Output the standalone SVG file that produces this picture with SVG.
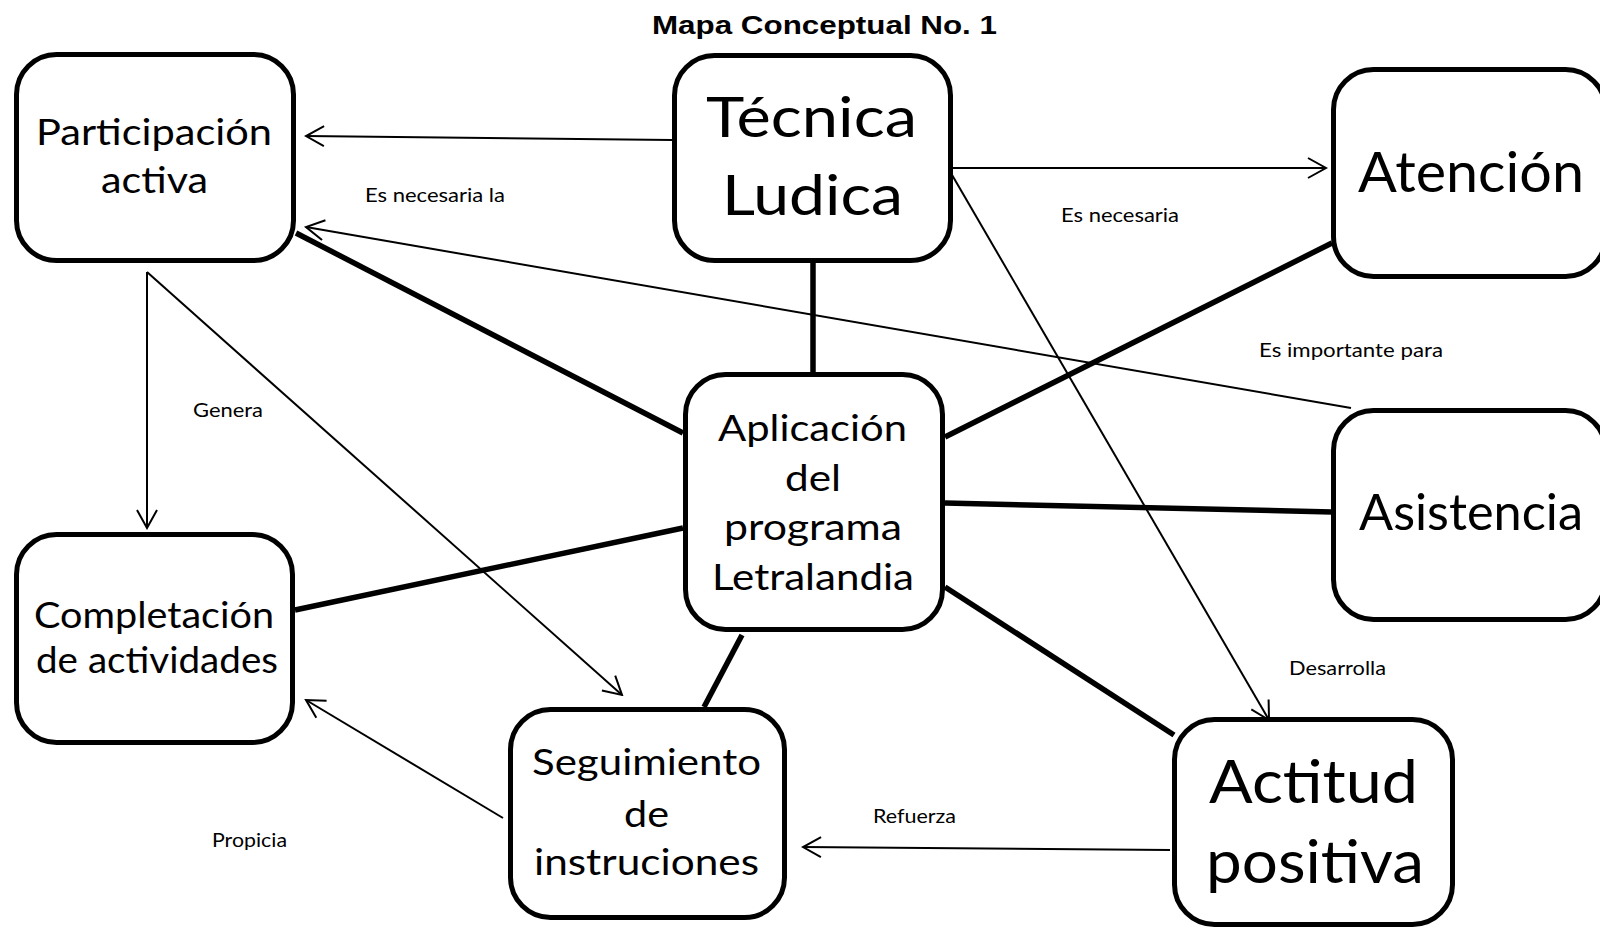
<svg xmlns="http://www.w3.org/2000/svg" width="1600" height="927" viewBox="0 0 1600 927">
<style>
.box{fill:#fff;stroke:#000;stroke-width:5}
.nt{font-family:Lato,"Open Sans",sans-serif;fill:#000}
.lbl{font-family:Lato,"Open Sans",sans-serif;font-size:19px;fill:#000}
.thick{stroke:#000;stroke-width:5.5;fill:none}
.thin{stroke:#000;stroke-width:2;fill:none;marker-end:url(#arr)}
.title{font-family:"Liberation Sans",Arial,sans-serif;font-weight:bold;font-size:25.5px;fill:#000}
</style>
<defs>
<marker id="arr" markerWidth="22" markerHeight="24" refX="20" refY="12" orient="auto" markerUnits="userSpaceOnUse">
<path d="M2 2 L20 12 L2 22" fill="none" stroke="#000" stroke-width="2"/>
</marker>
</defs>
<rect width="1600" height="927" fill="#fff"/>
<text class="title" x="652" y="33.5" textLength="345" lengthAdjust="spacingAndGlyphs">Mapa Conceptual No. 1</text>

<g id="connectors">
<line class="thick" x1="813" y1="263" x2="813" y2="372"/>
<line class="thick" x1="296" y1="233" x2="683" y2="433"/>
<line class="thick" x1="945" y1="437" x2="1332" y2="243"/>
<line class="thick" x1="945" y1="503" x2="1332" y2="512"/>
<line class="thick" x1="683" y1="528" x2="295" y2="610"/>
<line class="thick" x1="742" y1="635" x2="704" y2="707"/>
<line class="thick" x1="945" y1="587" x2="1174" y2="735"/>
<line class="thin" x1="672" y1="140" x2="306" y2="136"/>
<line class="thin" x1="1351" y1="408" x2="306" y2="227"/>
<line class="thin" x1="948" y1="168" x2="1326" y2="168"/>
<line class="thin" x1="948" y1="168" x2="1269" y2="720"/>
<line class="thin" x1="147" y1="272" x2="147" y2="528"/>
<line class="thin" x1="147" y1="272" x2="622" y2="695"/>
<line class="thin" x1="503" y1="818" x2="306" y2="700"/>
<line class="thin" x1="1170" y1="850" x2="803" y2="847"/>
<text class="lbl" x="365" y="202" textLength="140" lengthAdjust="spacingAndGlyphs">Es necesaria la</text>
<text class="lbl" x="1061" y="222" textLength="118" lengthAdjust="spacingAndGlyphs">Es necesaria</text>
<text class="lbl" x="1259" y="357" textLength="184" lengthAdjust="spacingAndGlyphs">Es importante para</text>
<text class="lbl" x="193" y="417" textLength="70" lengthAdjust="spacingAndGlyphs">Genera</text>
<text class="lbl" x="212" y="847" textLength="75" lengthAdjust="spacingAndGlyphs">Propicia</text>
<text class="lbl" x="873" y="823" textLength="83" lengthAdjust="spacingAndGlyphs">Refuerza</text>
<text class="lbl" x="1289" y="675" textLength="97" lengthAdjust="spacingAndGlyphs">Desarrolla</text>
</g>

<g id="participacion">
<rect class="box" x="16.5" y="54.5" width="277" height="206" rx="40"/>
<text class="nt" font-size="37.5" x="36" y="145" textLength="236" lengthAdjust="spacingAndGlyphs">Participación</text>
<text class="nt" font-size="37.5" x="101" y="193" textLength="107" lengthAdjust="spacingAndGlyphs">activa</text>
</g>
<g id="tecnica">
<rect class="box" x="674.5" y="55.5" width="276" height="205" rx="40"/>
<text class="nt" font-size="56" x="706" y="137" textLength="211" lengthAdjust="spacingAndGlyphs">Técnica</text>
<text class="nt" font-size="56" x="722" y="215" textLength="181" lengthAdjust="spacingAndGlyphs">Ludica</text>
</g>
<g id="atencion">
<rect class="box" x="1333.5" y="69.5" width="272" height="207" rx="40"/>
<text class="nt" font-size="56" x="1358" y="192" textLength="226" lengthAdjust="spacingAndGlyphs">Atención</text>
</g>
<g id="aplicacion">
<rect class="box" x="685.5" y="374.5" width="257" height="255" rx="40"/>
<text class="nt" font-size="36" x="718" y="441" textLength="189" lengthAdjust="spacingAndGlyphs">Aplicación</text>
<text class="nt" font-size="36" x="785" y="491" textLength="56" lengthAdjust="spacingAndGlyphs">del</text>
<text class="nt" font-size="36" x="724" y="540" textLength="178" lengthAdjust="spacingAndGlyphs">programa</text>
<text class="nt" font-size="36" x="712" y="590" textLength="202" lengthAdjust="spacingAndGlyphs">Letralandia</text>
</g>
<g id="asistencia">
<rect class="box" x="1333.5" y="410.5" width="272" height="209" rx="40"/>
<text class="nt" font-size="51" x="1359" y="530" textLength="224" lengthAdjust="spacingAndGlyphs">Asistencia</text>
</g>
<g id="completacion">
<rect class="box" x="16.5" y="534.5" width="276" height="208" rx="40"/>
<text class="nt" font-size="37" x="34" y="628" textLength="240" lengthAdjust="spacingAndGlyphs">Completación</text>
<text class="nt" font-size="37" x="36" y="673" textLength="242" lengthAdjust="spacingAndGlyphs">de actividades</text>
</g>
<g id="seguimiento">
<rect class="box" x="510.5" y="709.5" width="274" height="208" rx="40"/>
<text class="nt" font-size="36" x="532" y="775" textLength="229" lengthAdjust="spacingAndGlyphs">Seguimiento</text>
<text class="nt" font-size="36" x="624" y="827" textLength="45" lengthAdjust="spacingAndGlyphs">de</text>
<text class="nt" font-size="36" x="534" y="875" textLength="225" lengthAdjust="spacingAndGlyphs">instruciones</text>
</g>
<g id="actitud">
<rect class="box" x="1174.5" y="719.5" width="278" height="205" rx="40"/>
<text class="nt" font-size="60" x="1209" y="803" textLength="209" lengthAdjust="spacingAndGlyphs">Actitud</text>
<text class="nt" font-size="60" x="1206" y="883" textLength="218" lengthAdjust="spacingAndGlyphs">positiva</text>
</g>
</svg>
